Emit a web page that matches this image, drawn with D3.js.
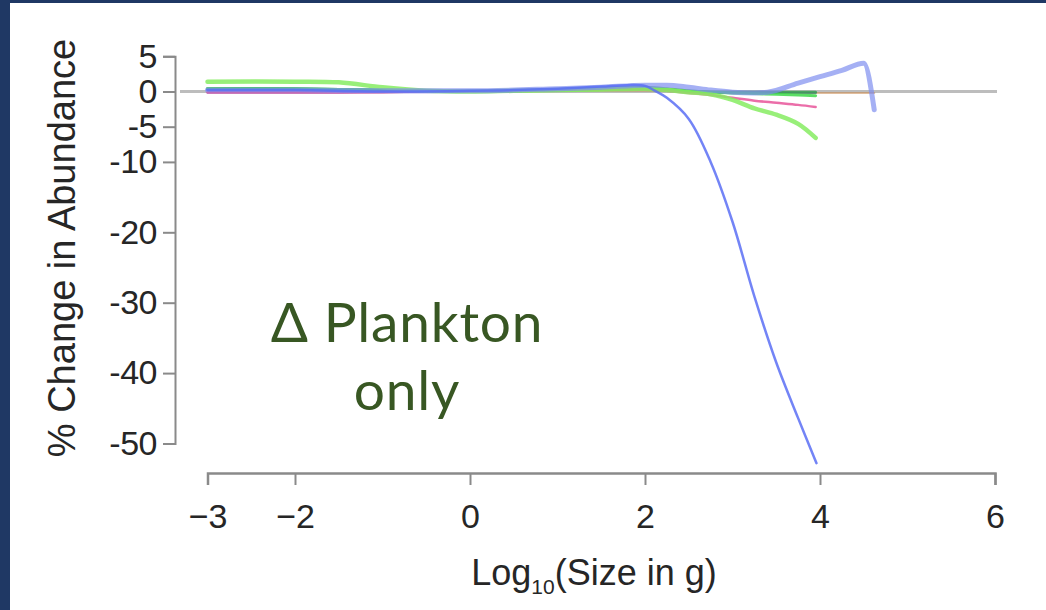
<!DOCTYPE html>
<html>
<head>
<meta charset="utf-8">
<script src="https://cdn.jsdelivr.net/npm/d3@7"></script>
<style>
  html, body { margin: 0; padding: 0; background: #ffffff; }
  svg { display: block; }
</style>
</head>
<body>
<svg id="chart" width="1046" height="610"></svg>
<script>
// Axis ticks
const xTicks = [-3, -2, 0, 2, 4, 6];
const yTicks = [5, 0, -5, -10, -20, -30, -40, -50];

// Size grid (log10 g) shared by the runs that stop at ~10^4 g
const logSize = [-3, -2, -1.5, -1, -0.5, 0, 0.5, 1, 1.5, 2, 2.25, 2.5, 2.75, 3, 3.25, 3.5, 3.75, 3.95];

// % change in abundance along logSize
const lightGreenRun = [1.4, 1.4, 1.3, 0.6, 0.1, 0.0, 0.1, 0.2, 0.3, 0.4, 0.2, -0.1, -0.4, -1.2, -2.4, -3.3, -4.6, -6.6];
const greenRun      = [0.4, 0.4, 0.3, 0.2, 0.1, 0.0, 0.1, 0.2, 0.3, 0.4, 0.2, 0.0, -0.1, -0.2, -0.3, -0.4, -0.5, -0.6];
const darkGreenRun  = [0.4, 0.4, 0.3, 0.2, 0.1, 0.0, 0.1, 0.3, 0.5, 0.6, 0.4, 0.1, -0.1, -0.1, -0.1, -0.1, -0.1, -0.1];
const pinkRun       = [-0.1, -0.1, -0.1, -0.1, 0.0, 0.0, 0.1, 0.2, 0.3, 0.3, 0.1, -0.2, -0.5, -0.9, -1.3, -1.6, -1.9, -2.2];
const purpleRun     = [-0.2, -0.2, -0.2, -0.1, -0.1, 0.0, 0.1, 0.2, 0.4, 0.5, 0.3, 0.1, -0.1, -0.2, -0.2, -0.2, -0.2, -0.2];

// Run that collapses above ~10^2 g
const crashSize = [-3, -2, -1, 0, 0.5, 1, 1.5, 1.8, 2.0, 2.1, 2.25, 2.5, 2.75, 3, 3.25, 3.5, 3.75, 3.96];
const crashRun  = [0.2, 0.2, 0.0, 0.1, 0.2, 0.4, 0.7, 0.9, 0.8, 0.2, -0.9, -3.9, -10.0, -18.5, -29.1, -38.5, -46.4, -52.8];

// Run that extends to the largest size classes
const largeSize = [-3, -2, -1, 0, 1, 1.5, 2, 2.25, 2.5, 2.75, 3, 3.25, 3.4, 3.75, 4, 4.25, 4.5, 4.62];
const largeRun  = [0.2, 0.2, 0.1, 0.1, 0.4, 0.6, 0.9, 0.9, 0.6, 0.2, -0.1, -0.2, -0.1, 1.2, 2.1, 3.0, 4.0, -2.6];

// Near-zero run reaching the same upper size
const orangeSize = [-3, -1, 0, 1, 2, 3, 4, 4.62];
const orangeRun  = [-0.1, -0.1, 0.0, 0.1, 0.1, -0.1, -0.2, -0.2];

const svg = d3.select("#chart");
const W = 1046, H = 610;

// slide frame
svg.append("rect").attr("x", 0).attr("y", 0).attr("width", W).attr("height", H).attr("fill", "#ffffff");
svg.append("rect").attr("x", 0).attr("y", 0).attr("width", W).attr("height", 3).attr("fill", "#1f3864");
svg.append("rect").attr("x", 0).attr("y", 0).attr("width", 10).attr("height", H).attr("fill", "#1f3864");

const x = d3.scaleLinear().domain([-3, 6]).range([207.5, 995]);
const y = d3.scaleLinear().domain([-50, 5]).range([443.5, 56.3]);

const axisColor = "#8a8a8a";
const textColor = "#262626";
const tickFont = "'Liberation Sans', Arial, Helvetica, sans-serif";

// zero reference line
svg.append("line")
  .attr("x1", 180).attr("x2", 997)
  .attr("y1", y(0)).attr("y2", y(0))
  .attr("stroke", "#bdbdbd").attr("stroke-width", 3);

// y axis
const yAxis = svg.append("g")
  .attr("transform", "translate(175,0)")
  .call(d3.axisLeft(y).tickValues(yTicks).tickSizeOuter(0).tickSize(12).tickPadding(6)
        .tickFormat(d => d < 0 ? "-" + Math.abs(d) : String(d)));
yAxis.select(".domain").attr("stroke", axisColor).attr("stroke-width", 2);
yAxis.selectAll(".tick line").attr("stroke", axisColor).attr("stroke-width", 2);
yAxis.selectAll(".tick text")
  .attr("fill", textColor).attr("font-family", tickFont).attr("font-size", 34)
  .attr("letter-spacing", -0.5);

// x axis
const xAxis = svg.append("g")
  .attr("transform", "translate(0,473)")
  .call(d3.axisBottom(x).tickValues(xTicks).tickSizeOuter(0).tickSize(12).tickPadding(19)
        .tickFormat(d => d < 0 ? "\u2212" + Math.abs(d) : String(d)));
xAxis.select(".domain").attr("stroke", axisColor).attr("stroke-width", 2.5);
xAxis.selectAll(".tick line").attr("stroke", axisColor).attr("stroke-width", 2);
xAxis.selectAll(".tick text")
  .attr("fill", textColor).attr("font-family", tickFont).attr("font-size", 34);

// axis titles
svg.append("text")
  .attr("transform", "translate(75,248) rotate(-90)")
  .attr("text-anchor", "middle")
  .attr("fill", textColor).attr("font-family", tickFont).attr("font-size", 38)
  .text("% Change in Abundance");

const xt = svg.append("text")
  .attr("x", 594).attr("y", 585)
  .attr("text-anchor", "middle")
  .attr("fill", textColor).attr("font-family", tickFont).attr("font-size", 36);
xt.append("tspan").text("Log");
xt.append("tspan").attr("font-size", 21).attr("dy", 9).text("10");
xt.append("tspan").attr("dy", -9).text("(Size in g)");

// series
const smooth = d3.curveCatmullRom.alpha(0.5);
const runs = [
  { xs: orangeSize, ys: orangeRun,     color: "#c8864a", width: 2,   opacity: 0.55, curve: smooth },
  { xs: logSize,    ys: purpleRun,     color: "#8a5ac8", width: 2,   opacity: 0.6,  curve: smooth },
  { xs: logSize,    ys: darkGreenRun,  color: "#2e9e4e", width: 3,   opacity: 0.8,  curve: smooth },
  { xs: logSize,    ys: greenRun,      color: "#3ed84a", width: 3,   opacity: 0.85, curve: smooth },
  { xs: logSize,    ys: pinkRun,       color: "#e8559a", width: 2.5, opacity: 0.85, curve: smooth },
  { xs: logSize,    ys: lightGreenRun, color: "#86ec62", width: 4.5, opacity: 0.85, curve: smooth },
  { xs: largeSize,  ys: largeRun,      color: "#7f8ff0", width: 5,   opacity: 0.7,  curve: d3.curveMonotoneX },
  { xs: crashSize,  ys: crashRun,      color: "#5a6ef5", width: 2.5, opacity: 0.85, curve: smooth }
];
svg.append("g").selectAll("path").data(runs).join("path")
  .attr("d", r => d3.line().x(d => x(d[0])).y(d => y(d[1])).curve(r.curve)(r.xs.map((v, i) => [v, r.ys[i]])))
  .attr("fill", "none")
  .attr("stroke", r => r.color)
  .attr("stroke-width", r => r.width)
  .attr("stroke-opacity", r => r.opacity)
  .attr("stroke-linejoin", "round")
  .attr("stroke-linecap", "round");

// annotation
const note = svg.append("text")
  .attr("fill", "#385723")
  .attr("font-family", "Lato, 'Open Sans', sans-serif")
  .attr("font-size", 55)
  .attr("letter-spacing", 0.8)
  .attr("text-anchor", "middle");
note.append("tspan").attr("x", 407).attr("y", 342).text("\u0394 Plankton");
note.append("tspan").attr("x", 407).attr("y", 410).text("only");
</script>
</body>
</html>
